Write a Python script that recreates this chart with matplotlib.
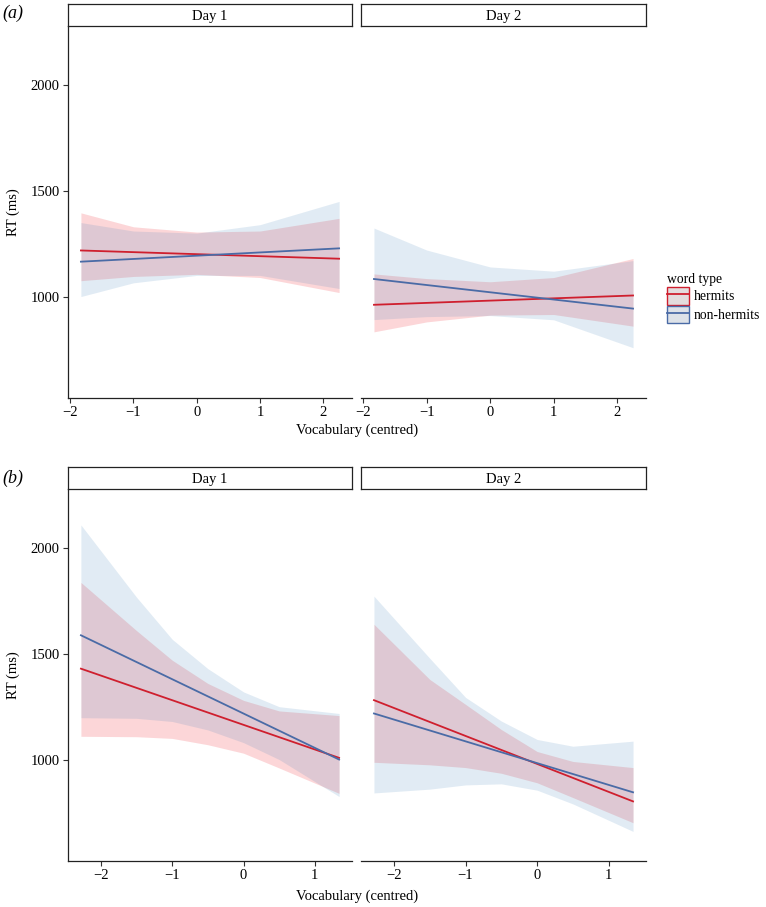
import numpy as np
import matplotlib.pyplot as plt
from matplotlib.patches import Patch
from matplotlib.lines import Line2D

plt.rcParams['font.family'] = ['Liberation Serif', 'DejaVu Serif']

# ----------------------------
# Datos
# ----------------------------
DAYS = ["Day 1", "Day 2"]
GROUPS = ["hermits", "non-hermits"]

# Panel (a)
X_LINE_A = [-1.83, 2.25]
X_BAND_A = [-1.83, -1.0, 0.0, 1.0, 2.25]
A_D1_HERM = [1218, 1179]
A_D1_NON = [1165, 1228]
A_D1_HERM_LO = [1075, 1095, 1105, 1090, 1019]
A_D1_HERM_HI = [1396, 1330, 1305, 1310, 1370]
A_D1_NON_LO = [1000, 1065, 1100, 1100, 1038]
A_D1_NON_HI = [1350, 1310, 1300, 1340, 1450]
A_D2_HERM = [961, 1005]
A_D2_NON = [1083, 943]
A_D2_HERM_LO = [833, 880, 912, 915, 860]
A_D2_HERM_HI = [1107, 1085, 1070, 1090, 1180]
A_D2_NON_LO = [891, 905, 910, 890, 758]
A_D2_NON_HI = [1324, 1220, 1140, 1120, 1170]

# Panel (b)
X_LINE_B = [-2.28, 1.34]
X_BAND_B = [-2.28, -1.5, -1.0, -0.5, 0.0, 0.5, 1.34]
B_D1_HERM = [1430, 1008]
B_D1_NON = [1588, 1000]
B_D1_HERM_LO = [1110, 1108, 1100, 1070, 1030, 960, 840]
B_D1_HERM_HI = [1838, 1610, 1470, 1360, 1280, 1230, 1208]
B_D1_NON_LO = [1198, 1195, 1180, 1140, 1080, 1000, 825]
B_D1_NON_HI = [2110, 1768, 1569, 1430, 1320, 1250, 1218]
B_D2_HERM = [1281, 802]
B_D2_NON = [1218, 845]
B_D2_HERM_LO = [987, 975, 962, 935, 890, 820, 701]
B_D2_HERM_HI = [1640, 1379, 1261, 1142, 1038, 991, 962]
B_D2_NON_LO = [842, 860, 880, 885, 855, 790, 660]
B_D2_NON_HI = [1773, 1479, 1294, 1182, 1095, 1063, 1087]

Y_TICKS = [1000, 1500, 2000]
X_TICKS_A = [-2, -1, 0, 1, 2]
X_TICKS_B = [-2, -1, 0, 1]

LINE_COLORS = ["#cf1f2e", "#4a6ba6"]
FILL_COLORS = ["#f0202a", "#377eb8"]
FILL_ALPHA = [0.18, 0.15]

W, H = 766, 907
FS = 10.5


def px_box(x0, y0, x1, y1):
    return [x0 / W, 1 - y1 / H, (x1 - x0) / W, (y1 - y0) / H]


def strip(fig, x0, x1, y0, y1, label):
    sax = fig.add_axes(px_box(x0, y0, x1, y1))
    sax.set_xticks([])
    sax.set_yticks([])
    for s in sax.spines.values():
        s.set_linewidth(0.9)
        s.set_color("#222222")
    sax.text(0.5, 0.45, label, ha="center", va="center", fontsize=FS,
             transform=sax.transAxes)


def panel(ax, x_line, x_band, lines, los, his, xticks, xlim, first):
    for g in range(2):
        ax.fill_between(x_band, los[g], his[g], color=FILL_COLORS[g],
                        alpha=FILL_ALPHA[g], linewidth=0)
    for g in range(2):
        ax.plot(x_line, lines[g], color=LINE_COLORS[g], lw=1.3)
    ax.set_xlim(*xlim)
    ax.set_ylim(520, 2280)
    ax.set_xticks(xticks)
    ax.set_yticks(Y_TICKS)
    ax.spines[["top", "right"]].set_visible(False)
    for s in ["left", "bottom"]:
        ax.spines[s].set_linewidth(0.9)
        ax.spines[s].set_color("#222222")
    ax.tick_params(length=3.5, width=0.8, color="#333333", labelsize=FS,
                   pad=2.5)
    if not first:
        ax.spines["left"].set_visible(False)
        ax.tick_params(axis="y", left=False, labelleft=False)


def main():
    fig = plt.figure(figsize=(W / 100, H / 100), dpi=100)

    rows = [
        dict(y0=26, y1=398, sy0=4, tag="(a)", tag_y=13, lab_y=430,
             x_line=X_LINE_A, x_band=X_BAND_A, xticks=X_TICKS_A,
             xlim=(-2.034, 2.454),
             days=[([A_D1_HERM, A_D1_NON], [A_D1_HERM_LO, A_D1_NON_LO], [A_D1_HERM_HI, A_D1_NON_HI]),
                   ([A_D2_HERM, A_D2_NON], [A_D2_HERM_LO, A_D2_NON_LO], [A_D2_HERM_HI, A_D2_NON_HI])]),
        dict(y0=489, y1=861, sy0=467, tag="(b)", tag_y=478, lab_y=896,
             x_line=X_LINE_B, x_band=X_BAND_B, xticks=X_TICKS_B,
             xlim=(-2.461, 1.521),
             days=[([B_D1_HERM, B_D1_NON], [B_D1_HERM_LO, B_D1_NON_LO], [B_D1_HERM_HI, B_D1_NON_HI]),
                   ([B_D2_HERM, B_D2_NON], [B_D2_HERM_LO, B_D2_NON_LO], [B_D2_HERM_HI, B_D2_NON_HI])]),
    ]
    cols = [(68, 352), (361, 646)]

    for r in rows:
        for i, (x0, x1) in enumerate(cols):
            ax = fig.add_axes(px_box(x0, r["y0"], x1, r["y1"]))
            lines, los, his = r["days"][i]
            panel(ax, r["x_line"], r["x_band"], lines, los, his,
                  r["xticks"], r["xlim"], i == 0)
            strip(fig, x0, x1, r["sy0"], r["y0"], DAYS[i])
        fig.text(357 / W, 1 - r["lab_y"] / H, "Vocabulary (centred)",
                 ha="center", va="center", fontsize=FS)
        fig.text(13 / W, 1 - ((r["y0"] + r["y1"]) / 2) / H, "RT (ms)",
                 ha="center", va="center", rotation=90, fontsize=FS)
        fig.text(2 / W, 1 - r["tag_y"] / H, r["tag"], ha="left",
                 va="center", fontsize=13, style="italic")

    handles = [
        (Patch(facecolor="#e3dcdd", edgecolor=LINE_COLORS[0], lw=1.0),
         Line2D([], [], color=LINE_COLORS[0], lw=1.3)),
        (Patch(facecolor="#dde2e8", edgecolor=LINE_COLORS[1], lw=1.0),
         Line2D([], [], color=LINE_COLORS[1], lw=1.3)),
    ]
    fig.legend(handles, GROUPS, loc="upper left",
               bbox_to_anchor=(664 / W, 1 - 270 / H), frameon=False,
               title="word type", alignment="left", fontsize=9.8,
               title_fontsize=9.8, handlelength=1.6, handleheight=1.6,
               handletextpad=0.4, labelspacing=0.1, borderpad=0.2,
               borderaxespad=0.0)

    fig.savefig("out.png", dpi=100)


if __name__ == "__main__":
    main()
